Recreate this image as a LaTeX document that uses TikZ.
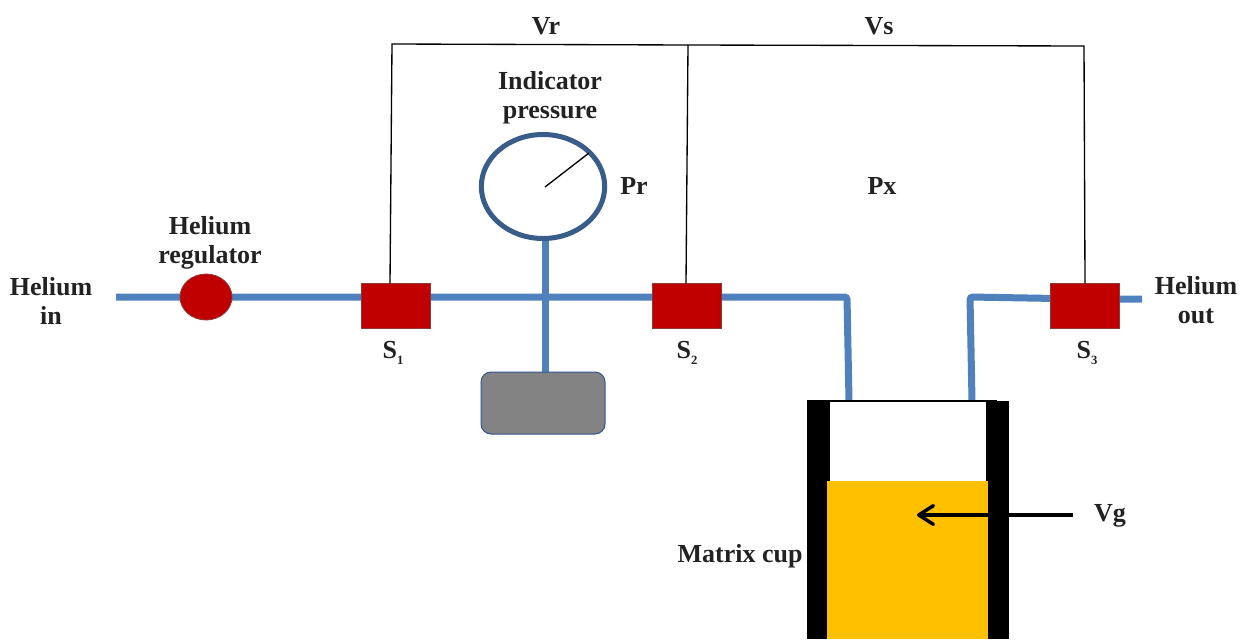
\documentclass[tikz,border=0pt]{standalone}
\usepackage{fontspec}
\setmainfont{Liberation Serif}
\usetikzlibrary{calc,arrows.meta,shapes.geometric}
\definecolor{pipeblue}{HTML}{4F81BD}
\definecolor{dialblue}{HTML}{385D8A}
\definecolor{valvered}{HTML}{C00000}
\definecolor{valveedge}{HTML}{8C3A3A}
\definecolor{graybox}{HTML}{838383}
\definecolor{grayedge}{HTML}{2F5597}
\definecolor{amberfill}{HTML}{FFC000}
\definecolor{labelink}{HTML}{222222}
\tikzset{
  pipe/.style={draw=pipeblue,line width=5.25pt,rounded corners=2pt},
  wire/.style={draw=black,line width=1pt},
  valve/.style={draw=valveedge,line width=.5pt,fill=valvered,inner sep=0pt,outer sep=0pt,minimum width=52pt,minimum height=34pt},
  lbl/.style={text=labelink,font=\fontsize{19.5}{21.75}\selectfont\bfseries,align=center,inner sep=0pt},
  sublbl/.style={text=labelink,font=\fontsize{19.5}{21.75}\selectfont\bfseries,inner sep=0pt},
  wall/.style={fill=black,draw=none,inner sep=0pt,outer sep=0pt,minimum width=17.25pt,minimum height=178.5pt},
}
\newcommand{\subdigit}[1]{\raisebox{-.22em}{\fontsize{9.5}{10}\selectfont #1}}
\begin{document}
\begin{tikzpicture}[x=.75pt,y=-.75pt]
\useasboundingbox (0,0) rectangle (1245,639);
\path
  (396,306) coordinate (S1c)
  (687,306) coordinate (S2c)
  (1085,306) coordinate (S3c);
% cup walls
\node[wall] (leftwall) at (818.5,520) {};
\node[wall] (rightwall) at (997.5,520) {};
\node[draw=none,fill=amberfill,inner sep=0pt,outer sep=0pt,minimum width=120.75pt,minimum height=118.5pt] (fillbed) at (907.5,560) {};
\coordinate (inA) at (116,297);
\coordinate (outB) at (1142,299);
\coordinate (bendA) at (847,297);
\coordinate (bendB) at (970,297);
\coordinate (cupA) at (849,401);
\coordinate (cupB) at (972,401);
\coordinate (teeT) at (545,241);
\coordinate (teeB) at (545,373);
\coordinate (j1) at (396,297);
\coordinate (j3) at (1085,299);
% pipes
\draw[pipe] (inA) -- (j1) -- (bendA) -- (cupA);
\draw[pipe] (cupB) -- (bendB) -- (j3) -- (outB);
\draw[pipe] (teeT) -- (teeB);
% cup top
\draw[black,line width=1.1pt] (leftwall.north west) -- (997,401);
% regulator
\node[draw=valveedge,line width=.6pt,fill=valvered,ellipse,inner sep=0pt,minimum width=39pt,minimum height=34.5pt] (reg) at (206,297) {};
% valves
\node[valve] (S1) at (S1c) {};
\node[valve] (S2) at (S2c) {};
\node[valve] (S3) at (S3c) {};
% dial
\node[draw=dialblue,line width=3.75pt,fill=white,ellipse,inner sep=0pt,outer sep=0pt,minimum width=92.5pt,minimum height=78pt] (dial) at (543,186.5) {};
\coordinate (needleA) at (545,187);
\coordinate (needleB) at (589,153);
\draw[black,line width=1pt] (needleA) -- (needleB);
% gray box
\node[draw=grayedge,line width=.75pt,fill=graybox,rounded corners=7.5pt,inner sep=0pt,minimum width=93pt,minimum height=46.5pt] (tank) at (543,403) {};
% wires
\coordinate (topL) at (392,44);
\coordinate (topM) at (688,45);
\coordinate (topR) at (1084,46);
\draw[wire] ($(S1.north)+(-6,0)$) -- (topL) -- (topM) -- (topR) -- (S3.north);
\draw[wire] ($(S2.north)+(-1,0)$) -- (topM);
% Vg arrow
\coordinate (vgA) at (1073,515);
\coordinate (vgB) at (917,515);
\draw[black,line width=2.4pt,-{Straight Barb[length=11pt,width=14pt,line width=2.6pt,round]}] (vgA) -- (vgB);
% labels
\node[lbl] (heliumin) at (51,300.5) {Helium\\in};
\node[lbl] (heliumreg) at (210,243) {Helium\\regulator};
\node[lbl] (indic) at (550,98) {Indicator\\pressure};
\node[lbl] (heliumout) at (1196,300.5) {Helium\\out};
\node[lbl] (vr) at (546,26) {Vr};
\node[lbl] (vs) at (879,26) {Vs};
\node[lbl] (pr) at (634,186) {Pr};
\node[lbl] (px) at (882,186) {Px};
\node[lbl] (vg) at (1110,516) {Vg};
\node[lbl] (matrix) at (740,556) {Matrix cup};
\node[sublbl] (s1l) at (393,353) {S\subdigit{1}};
\node[sublbl] (s2l) at (687,353) {S\subdigit{2}};
\node[sublbl] (s3l) at (1087,353) {S\subdigit{3}};
\end{tikzpicture}
\end{document}
